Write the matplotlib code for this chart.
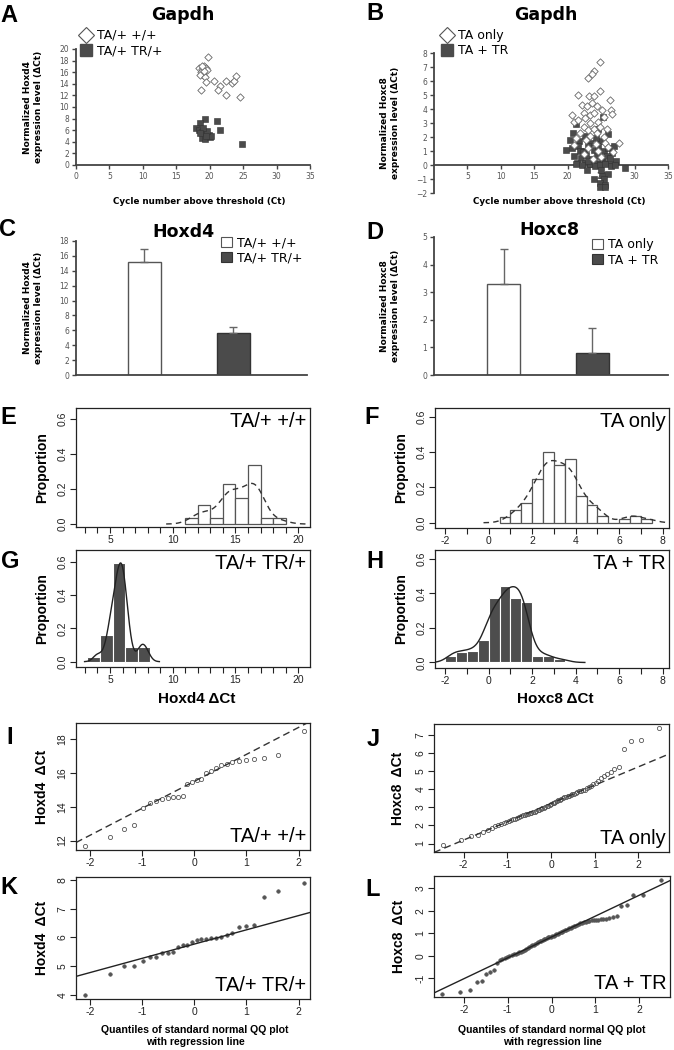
import matplotlib
matplotlib.use('Agg')
import matplotlib.pyplot as plt
from matplotlib.patches import Patch
from matplotlib.lines import Line2D
import numpy as np
from statistics import NormalDist

W, H = 674, 1050

# group names
groups_d4 = ['TA/+ +/+', 'TA/+ TR/+']
groups_c8 = ['TA only', 'TA + TR']

# A: Hoxd4 dCt vs Gapdh Ct
a_wt_ct = [19.8, 18.4, 18.8, 19.1, 19.4, 19.6, 18.7, 19.0, 18.5, 19.3, 19.5, 18.7, 20.7, 21.6,
           21.3, 22.5, 22.5, 23.3, 23.7, 23.9, 24.6, 19.2, 18.9]
a_wt_dct = [18.7, 16.8, 16.5, 17.1, 16.8, 16.4, 16.0, 15.6, 15.5, 15.1, 14.3, 12.9, 14.5, 13.7,
            12.9, 14.5, 12.1, 14.1, 14.5, 15.4, 11.7, 16.2, 17.0]
a_tr_ct = [19.3, 18.5, 21.1, 21.5, 18.0, 18.4, 18.8, 19.1, 19.5, 19.9, 18.9, 19.3, 20.0, 20.2,
           19.6, 19.0, 24.8, 18.5, 19.4]
a_tr_dct = [8.0, 7.3, 7.6, 6.0, 6.4, 6.0, 5.7, 5.3, 5.6, 5.1, 4.7, 4.5, 4.8, 5.0,
            5.9, 6.3, 3.7, 5.6, 5.0]

# B: Hoxc8 dCt vs Gapdh Ct
b_only_ct = [24.9, 24.0, 23.7, 23.1, 24.9, 21.5, 23.2, 24.0, 26.3, 22.1, 22.9, 23.6, 24.4, 25.1,
             26.4, 26.6, 20.6, 22.4, 23.4, 23.9, 20.9, 21.6, 22.6, 23.4, 24.6, 25.4, 22.4, 23.1,
             23.9, 24.9, 25.9, 27.6, 21.9, 23.4, 24.4, 25.4, 22.8, 24.2, 25.6, 21.2, 23.0, 24.6,
             26.0, 22.5, 25.0, 21.0, 23.8, 26.8]
b_only_dct = [7.36, 6.7, 6.5, 6.25, 5.3, 5.0, 4.9, 4.9, 4.65, 4.3, 4.2, 4.4, 4.2, 3.9,
              3.9, 3.65, 3.6, 3.7, 3.6, 3.7, 3.1, 3.2, 3.35, 3.0, 3.1, 3.4, 2.75, 2.5,
              2.6, 2.75, 2.55, 1.6, 2.3, 2.05, 2.3, 2.0, 1.8, 1.5, 1.6, 1.9, 1.2, 1.0,
              1.3, 0.8, 0.6, 1.4, 0.4, 0.9]
b_tr_ct = [21.3, 20.8, 20.4, 21.7, 22.6, 23.4, 24.9, 26.0, 25.3, 26.9, 19.8, 20.6, 21.6, 22.4,
           23.1, 23.9, 24.6, 25.4, 26.1, 26.6, 20.9, 22.0, 22.8, 23.6, 24.4, 25.1, 25.9, 21.4,
           22.6, 23.4, 24.1, 24.9, 25.6, 26.4, 21.2, 22.1, 23.4, 24.1, 24.9, 25.6, 26.4, 28.6,
           23.9, 25.1, 26.1, 25.4, 24.9, 25.6, 24.9, 25.6, 25.0, 22.9, 27.2, 24.2, 21.9, 23.0,
           26.3, 27.0, 24.5, 22.3]
b_tr_dct = [2.9, 2.3, 1.8, 1.7, 2.05, 1.6, 1.7, 2.2, 3.4, 1.35, 1.1, 1.2, 1.35, 1.0,
            1.35, 1.1, 1.35, 1.0, 1.2, 0.87, 0.64, 0.52, 0.75, 0.4, 0.64, 0.45, 0.64, 0.16,
            0.12, 0.05, 0.16, 0.05, 0.16, 0.1, 0.07, 0.0, 0.07, -0.07, 0.0, 0.07, -0.07, -0.24,
            -1.0, -0.7, -0.64, -1.0, -1.3, -1.4, -1.6, -1.6, -0.35, -0.35, 0.3, 1.9, 1.0, 0.3,
            0.5, 0.0, 2.6, 0.9]

# C, D: mean dCt with SD
c_mean = [15.2, 5.6]
c_err = [1.75, 0.8]
d_mean = [3.3, 0.8]
d_err = [1.25, 0.92]

# E-H: histogram proportions
e_edges = [11, 12, 13, 14, 15, 16, 17, 18, 19]
e_height = [0.036, 0.11, 0.036, 0.23, 0.15, 0.34, 0.036, 0.036]
f_edges = [0.5, 1.0, 1.5, 2.0, 2.5, 3.0, 3.5, 4.0, 4.5, 5.0, 5.5, 6.0, 6.5, 7.0, 7.5]
f_height = [0.03, 0.07, 0.11, 0.25, 0.40, 0.33, 0.36, 0.15, 0.10, 0.04, 0.0, 0.02, 0.04, 0.02]
g_edges = [3.2, 4.2, 5.2, 6.2, 7.2, 8.2]
g_height = [0.03, 0.16, 0.59, 0.09, 0.09]
h_edges = [-2.0, -1.5, -1.0, -0.5, 0.0, 0.5, 1.0, 1.5, 2.0, 2.5, 3.0, 3.5]
h_height = [0.035, 0.06, 0.065, 0.13, 0.375, 0.445, 0.375, 0.35, 0.035, 0.035, 0.02]

# sorted dCt values per group (QQ panels / density curves)
hoxd4_wt = [11.7, 12.2, 12.7, 12.9, 13.9, 14.2, 14.35, 14.45, 14.5, 14.55, 14.6, 14.65, 15.35, 15.45,
            15.55, 15.65, 16.0, 16.1, 16.3, 16.45, 16.55, 16.65, 16.72, 16.78, 16.85, 16.88, 17.05, 18.5]
hoxd4_tr = [4.01, 4.74, 5.0, 5.0, 5.18, 5.33, 5.33, 5.47, 5.47, 5.5, 5.65, 5.73, 5.75, 5.85,
            5.9, 5.93, 5.95, 5.97, 5.99, 6.03, 6.09, 6.14, 6.35, 6.4, 6.43, 7.39, 7.6, 7.9]
hoxc8_only = [0.92, 1.2, 1.42, 1.48, 1.62, 1.75, 1.85, 1.95, 2.02, 2.08, 2.13, 2.18, 2.23, 2.28,
              2.33, 2.38, 2.43, 2.48, 2.52, 2.55, 2.58, 2.62, 2.65, 2.68, 2.71, 2.74, 2.77, 2.8,
              2.83, 2.86, 2.9, 2.94, 2.97, 3.02, 3.06, 3.1, 3.14, 3.18, 3.22, 3.26, 3.3, 3.34,
              3.38, 3.42, 3.47, 3.52, 3.55, 3.58, 3.62, 3.65, 3.68, 3.72, 3.76, 3.8, 3.84, 3.88,
              3.92, 3.95, 3.98, 4.05, 4.12, 4.2, 4.28, 4.36, 4.44, 4.6, 4.72, 4.85, 4.95, 5.1,
              5.25, 6.24, 6.65, 6.73, 7.37]
hoxc8_tr = [-1.7, -1.6, -1.5, -1.16, -1.11, -0.79, -0.74, -0.64, -0.34, -0.19, -0.15, -0.10, -0.06, -0.02,
            0.02, 0.06, 0.10, 0.13, 0.16, 0.19, 0.22, 0.26, 0.30, 0.34, 0.38, 0.42, 0.46, 0.50,
            0.54, 0.58, 0.62, 0.65, 0.68, 0.71, 0.74, 0.77, 0.80, 0.82, 0.84, 0.86, 0.88, 0.90,
            0.92, 0.95, 0.98, 1.01, 1.04, 1.07, 1.10, 1.13, 1.16, 1.19, 1.22, 1.25, 1.28, 1.31,
            1.34, 1.37, 1.40, 1.46, 1.48, 1.50, 1.52, 1.55, 1.57, 1.58, 1.59, 1.60, 1.61, 1.62,
            1.64, 1.66, 1.69, 1.73, 1.78, 2.2, 2.24, 2.7, 2.7, 3.37]

XL = 'DejaVu Sans'
RF = 'Liberation Sans'
DARK = '#4b4b4b'
plt.rcParams['font.family'] = XL

fig = plt.figure(figsize=(W / 100, H / 100), dpi=100)


def px_axes(l, t, r, b):
    return fig.add_axes([l / W, 1 - b / H, (r - l) / W, (b - t) / H])


def ftext(x, y, s, **kw):
    fig.text(x / W, 1 - y / H, s, **kw)


def excel_axes(ax):
    for s in ['top', 'right']:
        ax.spines[s].set_visible(False)
    for s in ['left', 'bottom']:
        ax.spines[s].set_color('#444')
        ax.spines[s].set_linewidth(1.3)
    ax.tick_params(direction='out', length=3, width=1, color='#444', labelsize=5.5,
                   labelcolor='#555', pad=2)


def r_axes(ax, xt, xl, yt, yl):
    for s in ax.spines.values():
        s.set_linewidth(0.9)
        s.set_color('#222')
    ax.set_xticks(xt, labels=xl, fontfamily=RF)
    ax.set_yticks(yt, labels=yl, fontfamily=RF, rotation=90, va='center')
    ax.tick_params(direction='out', length=4, width=0.8, color='#222', labelsize=7.5,
                   labelcolor='#222', pad=2)


def kde_curve(vals, adjust=1.0):
    # gaussian density, R default bandwidth (bw.nrd0)
    v = np.asarray(vals)
    q75, q25 = np.percentile(v, [75, 25])
    bw = adjust * 0.9 * min(v.std(ddof=1), (q75 - q25) / 1.34) * len(v) ** -0.2
    grid = np.linspace(v.min() - 3 * bw, v.max() + 3 * bw, 512)
    dens = np.exp(-0.5 * ((grid[:, None] - v[None, :]) / bw) ** 2).sum(axis=1)
    return grid, dens / (len(v) * bw * np.sqrt(2 * np.pi))


def qq_x(vals):
    n = len(vals)
    nd = NormalDist()
    return np.array([nd.inv_cdf((i - 0.5) / n) for i in range(1, n + 1)])


def qq_line(vals):
    # line through the quartiles, like R's qqline
    q25, q75 = np.percentile(vals, [25, 75])
    z25, z75 = NormalDist().inv_cdf(0.25), NormalDist().inv_cdf(0.75)
    slope = (q75 - q25) / (z75 - z25)
    return slope, q25 - slope * z25


def letter(x, y, s):
    ftext(x, y, s, fontsize=17, weight='bold', family=RF, ha='center', va='center')


h_open = Line2D([], [], marker='D', ls='none', ms=8, mfc='white', mec='#555', mew=0.8)
h_fill = Line2D([], [], marker='s', ls='none', ms=8.5, mfc=DARK, mec=DARK)
p_open = Patch(facecolor='white', edgecolor='#555', lw=0.8)
p_fill = Patch(facecolor=DARK, edgecolor='#333', lw=0.8)
leg_kw = dict(loc='upper left', bbox_transform=fig.transFigure, frameon=False, fontsize=9,
              handletextpad=0.35, labelspacing=0.2, borderpad=0, borderaxespad=0)

# ---- A ----
ax = px_axes(76, 49, 310, 165)
excel_axes(ax)
ax.set_xlim(0, 35)
ax.set_ylim(0, 20)
ax.set_xticks(range(0, 36, 5))
ax.set_yticks(range(0, 21, 2))
ax.scatter(a_wt_ct, a_wt_dct, marker='D', s=14, facecolor='white', edgecolor='#666',
           linewidths=0.6, clip_on=False, zorder=3)
ax.scatter(a_tr_ct, a_tr_dct, marker='s', s=20, facecolor=DARK, edgecolor='#333',
           linewidths=0.4, clip_on=False, zorder=3)
ax.legend([h_open, h_fill], groups_d4, bbox_to_anchor=(80 / W, 1 - 29 / H), handlelength=1.0, **leg_kw)
ftext(183, 15, 'Gapdh', fontsize=12.5, weight='bold', ha='center', va='center')
ftext(33, 107, 'Normalized Hoxd4\nexpression level (\u0394Ct)', fontsize=6.5, weight='bold',
      rotation=90, ha='center', va='center', linespacing=1.15)
ftext(199, 202, 'Cycle number above threshold (Ct)', fontsize=6.3, weight='bold', ha='center', va='center')
letter(9, 15, 'A')

# ---- B ----
ax = px_axes(434, 53, 668, 193)
excel_axes(ax)
ax.spines['bottom'].set_position(('data', 0))
ax.set_xlim(0, 35)
ax.set_ylim(-2, 8)
ax.set_xticks(range(5, 36, 5))
ax.set_yticks(range(-2, 9))
ax.scatter(b_tr_ct, b_tr_dct, marker='s', s=24, facecolor=DARK, edgecolor='#333',
           linewidths=0.4, clip_on=False, zorder=3)
ax.scatter(b_only_ct, b_only_dct, marker='D', s=14, facecolor='white', edgecolor='#666',
           linewidths=0.6, clip_on=False, zorder=4)
ax.legend([h_open, h_fill], groups_c8, bbox_to_anchor=(441 / W, 1 - 29 / H), handlelength=1.0, **leg_kw)
ftext(546, 15, 'Gapdh', fontsize=12.5, weight='bold', ha='center', va='center')
ftext(390, 123, 'Normalized Hoxc8\nexpression level (\u0394Ct)', fontsize=6.5, weight='bold',
      rotation=90, ha='center', va='center', linespacing=1.15)
ftext(559, 202, 'Cycle number above threshold (Ct)', fontsize=6.3, weight='bold', ha='center', va='center')
letter(375, 14, 'B')

# ---- C ----
ax = px_axes(76, 241, 307, 375)
excel_axes(ax)
ax.set_xlim(0, 7)
ax.set_ylim(0, 18)
ax.set_xticks([])
ax.set_yticks(range(0, 19, 2))
pos = [2.07, 4.77]
ax.bar(pos, c_mean, width=1.0, color=['white', DARK], edgecolor=['#555', '#333'], linewidth=1.0)
ax.errorbar(pos, c_mean, yerr=[[0, 0], c_err], fmt='none', ecolor='#666', elinewidth=1,
            capsize=3, capthick=1)
ax.legend([p_open, p_fill], groups_d4, bbox_to_anchor=(221 / W, 1 - 236 / H), handlelength=0.9,
          handleheight=0.9, **leg_kw)
ftext(183, 232, 'Hoxd4', fontsize=12.5, weight='bold', ha='center', va='center')
ftext(33, 308, 'Normalized Hoxd4\nexpression level (\u0394Ct)', fontsize=6.5, weight='bold',
      rotation=90, ha='center', va='center', linespacing=1.15)
letter(8, 230, 'C')

# ---- D ----
ax = px_axes(434, 237, 668, 375)
excel_axes(ax)
ax.set_xlim(0, 7)
ax.set_ylim(0, 5)
ax.set_xticks([])
ax.set_yticks(range(0, 6))
pos = [2.08, 4.74]
ax.bar(pos, d_mean, width=1.0, color=['white', DARK], edgecolor=['#555', '#333'], linewidth=1.0)
ax.errorbar(pos, d_mean, yerr=[[0, 0], d_err], fmt='none', ecolor='#666', elinewidth=1,
            capsize=3, capthick=1)
ax.legend([p_open, p_fill], groups_c8, bbox_to_anchor=(592 / W, 1 - 238 / H), handlelength=0.9,
          handleheight=0.9, **leg_kw)
ftext(549, 230, 'Hoxc8', fontsize=12.5, weight='bold', ha='center', va='center')
ftext(390, 306, 'Normalized Hoxc8\nexpression level (\u0394Ct)', fontsize=6.5, weight='bold',
      rotation=90, ha='center', va='center', linespacing=1.15)
letter(375, 232, 'D')

# ---- E-H histograms ----
d4_ticks = list(range(3, 21))
d4_labels = [str(t) if t % 5 == 0 else '' for t in d4_ticks]
c8_ticks = list(range(-2, 9))
c8_labels = [str(t) if t % 2 == 0 else '' for t in c8_ticks]
prop_ticks = [0.0, 0.2, 0.4, 0.6]
prop_labels = ['0.0', '0.2', '0.4', '0.6']

hist_specs = [
    ((76, 408, 310, 527), (2.29, 20.94), (-0.017, 0.663), e_edges, e_height, hoxd4_wt, False, 1.0,
     d4_ticks, d4_labels, groups_d4[0], 'E', (8, 417), 42),
    ((435, 408, 669, 528), (-2.47, 8.29), (-0.03, 0.651), f_edges, f_height, hoxc8_only, False, 1.0,
     c8_ticks, c8_labels, groups_c8[0], 'F', (372, 417), 401),
    ((76, 550, 310, 667), (2.29, 20.94), (-0.032, 0.67), g_edges, g_height, hoxd4_tr, True, 1.5,
     d4_ticks, d4_labels, groups_d4[1], 'G', (10, 562), 42),
    ((435, 550, 669, 668), (-2.47, 8.29), (-0.032, 0.652), h_edges, h_height, hoxc8_tr, True, 1.0,
     c8_ticks, c8_labels, groups_c8[1], 'H', (375, 562), 401),
]
for box, xlim, ylim, edges, heights, vals, filled, adj, xt, xl, name, let, lpos, ylx in hist_specs:
    ax = px_axes(*box)
    ax.set_xlim(*xlim)
    ax.set_ylim(*ylim)
    r_axes(ax, xt, xl, prop_ticks, prop_labels)
    widths = np.diff(edges)
    if filled:
        ax.bar(edges[:-1], heights, width=widths, align='edge', color='#4d4d4d',
               edgecolor='white', linewidth=0.8)
    else:
        ax.bar(edges[:-1], heights, width=widths, align='edge', color='white',
               edgecolor='#555', linewidth=0.9)
    gx, gy = kde_curve(vals, adj)
    if filled:
        ax.plot(gx, gy, color='#222', lw=1.0)
    else:
        ax.plot(gx, gy, color='#333', lw=1.0, dashes=(4, 3))
    ax.text(0.985, 0.965, name, transform=ax.transAxes, ha='right', va='top',
            fontsize=14.5, family=RF)
    ftext(ylx, (box[1] + box[3]) / 2, 'Proportion', fontsize=10, weight='bold', family=RF,
          rotation=90, ha='center', va='center')
    letter(lpos[0], lpos[1], let)

ftext(197, 699, 'Hoxd4 \u0394Ct', fontsize=11, weight='bold', family=RF, ha='center', va='center')
ftext(555, 699, 'Hoxc8 \u0394Ct', fontsize=11, weight='bold', family=RF, ha='center', va='center')

# ---- I-L QQ plots ----
qq_specs = [
    ((76, 723, 310, 850), (-2.27, 2.22), (11.44, 18.95), hoxd4_wt, False, [12, 14, 16, 18],
     'Hoxd4  \u0394Ct', groups_d4[0], 'I', (10, 737), 42),
    ((434, 724, 669, 852), (-2.68, 2.70), (0.53, 7.61), hoxc8_only, False, list(range(1, 8)),
     'Hoxc8  \u0394Ct', groups_c8[0], 'J', (373, 739), 398),
    ((76, 877, 310, 999), (-2.27, 2.22), (3.86, 8.1), hoxd4_tr, True, [4, 5, 6, 7, 8],
     'Hoxd4  \u0394Ct', groups_d4[1], 'K', (9, 887), 42),
    ((434, 876, 670, 997), (-2.68, 2.70), (-1.83, 3.55), hoxc8_tr, True, [-1, 0, 1, 2, 3],
     'Hoxc8  \u0394Ct', groups_c8[1], 'L', (373, 890), 399),
]
for box, xlim, ylim, vals, filled, yt, ylab, name, let, lpos, ylx in qq_specs:
    ax = px_axes(*box)
    ax.set_xlim(*xlim)
    ax.set_ylim(*ylim)
    xt = [-2, -1, 0, 1, 2]
    r_axes(ax, xt, [str(t) for t in xt], yt, [str(t) for t in yt])
    qx = qq_x(vals)
    m, b = qq_line(vals)
    lx = np.array(xlim)
    if filled:
        ax.plot(qx, vals, 'o', ms=2.6, mfc='#555', mec='#555', mew=0.4)
        ax.plot(lx, m * lx + b, color='#222', lw=1.0)
    else:
        ax.plot(qx, vals, 'o', ms=3, mfc='none', mec='#555', mew=0.6)
        ax.plot(lx, m * lx + b, color='#333', lw=1.0, dashes=(5, 3))
    ax.text(0.985, 0.03, name, transform=ax.transAxes, ha='right', va='bottom',
            fontsize=14.5, family=RF)
    ftext(ylx, (box[1] + box[3]) / 2, ylab, fontsize=10, weight='bold', family=RF,
          rotation=90, ha='center', va='center')
    letter(lpos[0], lpos[1], let)

for cx in [195, 552]:
    ftext(cx, 1036, 'Quantiles of standard normal QQ plot\nwith regression line', fontsize=7.6,
          weight='bold', family=RF, ha='center', va='center', linespacing=1.15)

fig.savefig('out.png', dpi=100)
